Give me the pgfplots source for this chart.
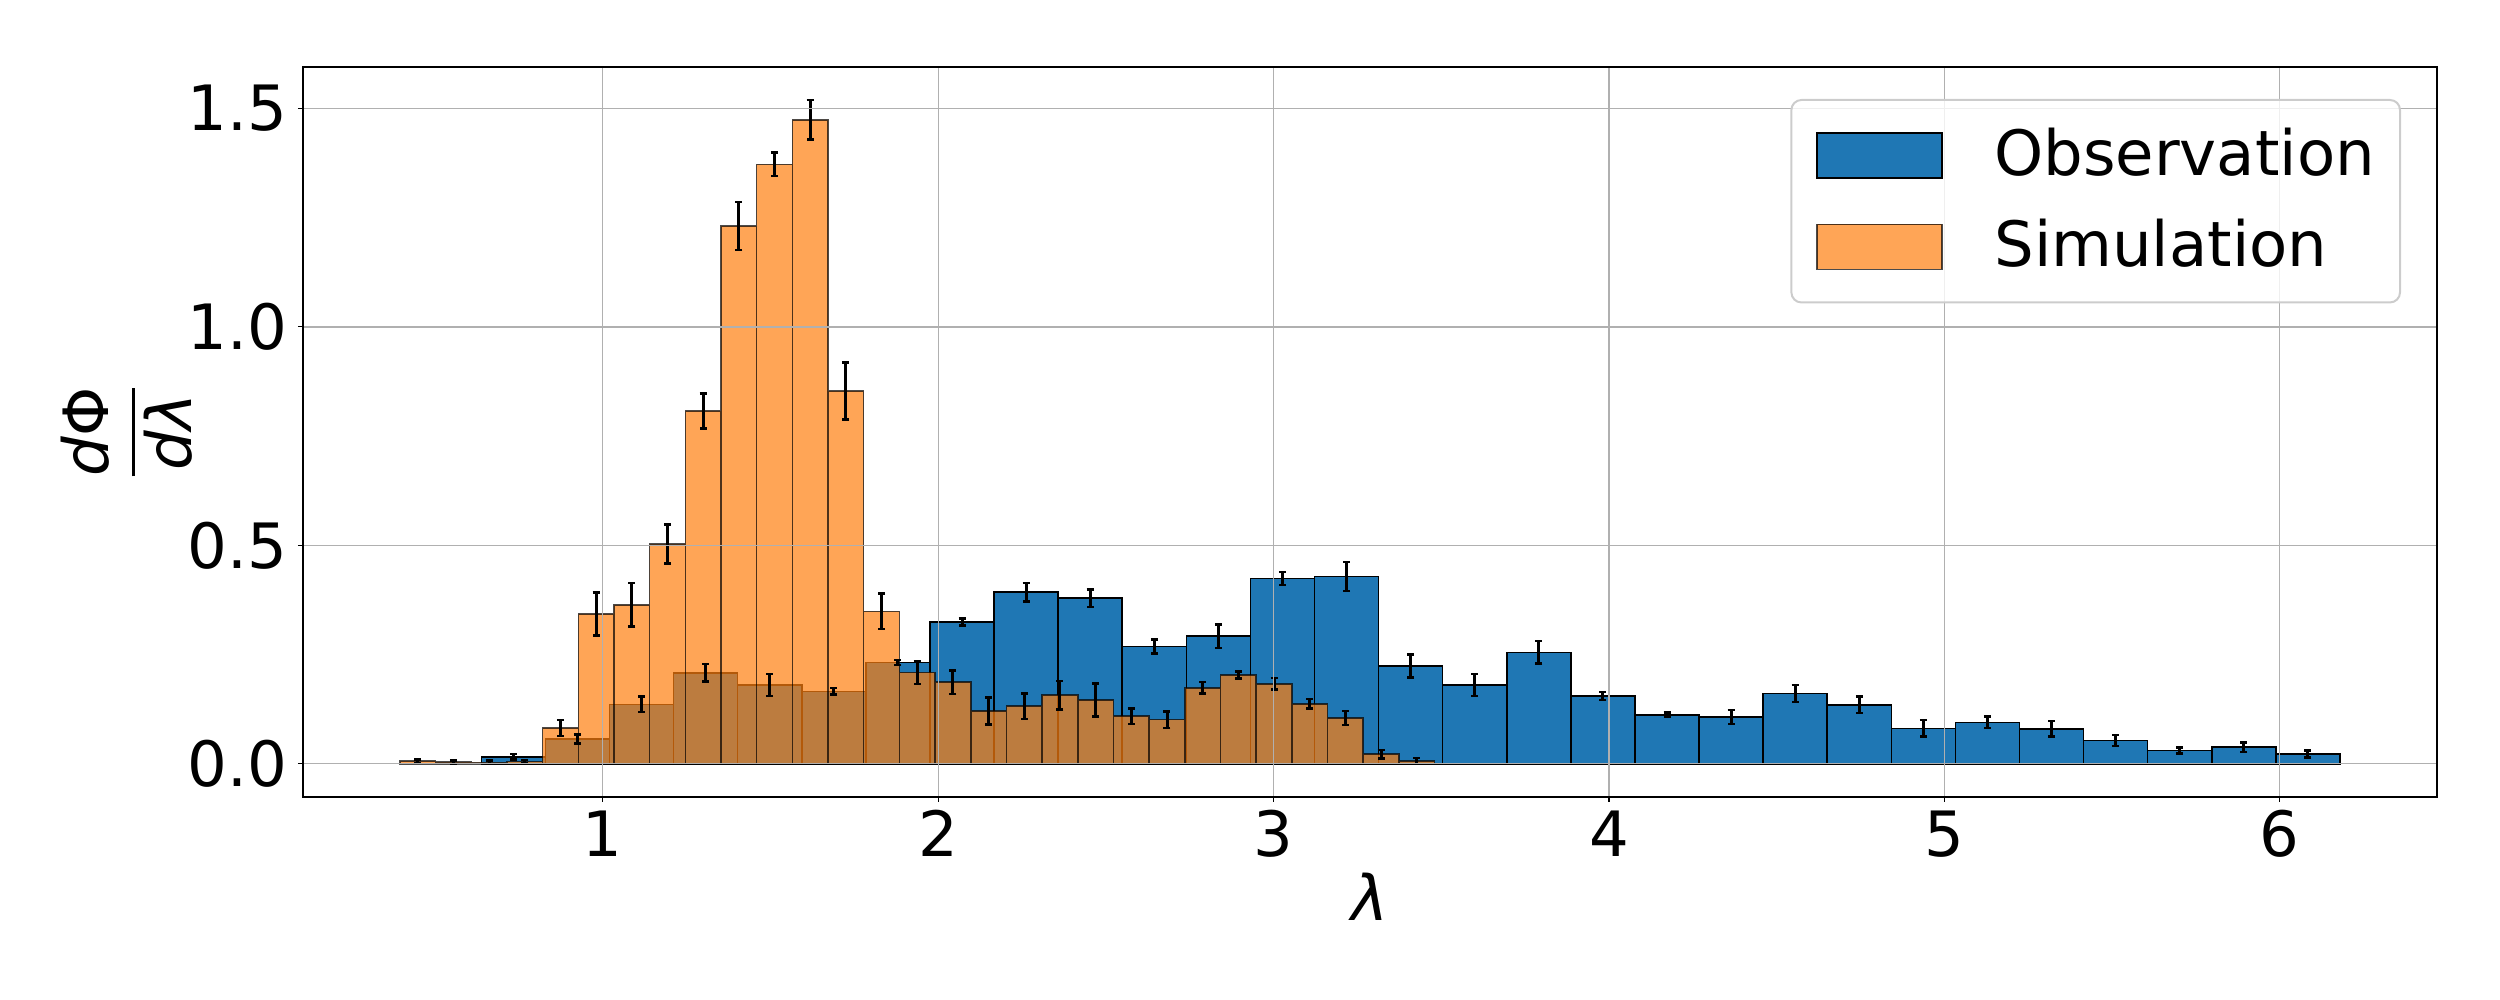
\documentclass[border=0pt]{standalone}
\usepackage{fontspec}
\setmainfont{DejaVu Sans}
\usepackage{pgfplots}
\usepackage{pgfplotstable}
\pgfplotsset{compat=1.18}
\definecolor{mblue}{HTML}{1F77B4}
\definecolor{morange}{HTML}{FF7F0E}
\definecolor{mgrid}{HTML}{B0B0B0}
\pgfplotsset{histlegend/.style={legend image code/.code={\path (0pt,0pt) (35.3pt,0pt);\draw[##1, fill opacity=#1, draw opacity=#1, sharp corners, line width=0.3pt] (0pt,-4.5pt) rectangle (25pt,4.5pt);}}}

% Observation histogram: left bin edges (last row = right edge)
\pgfplotstableread{
x y
0.6377 0.016
0.8288 0.057
1.0199 0.136
1.2110 0.208
1.4021 0.180
1.5932 0.166
1.7843 0.232
1.9754 0.325
2.1665 0.393
2.3576 0.379
2.5487 0.268
2.7398 0.292
2.9309 0.424
3.1220 0.429
3.3131 0.224
3.5042 0.180
3.6953 0.255
3.8864 0.155
4.0775 0.112
4.2686 0.107
4.4597 0.161
4.6508 0.135
4.8419 0.081
5.0330 0.095
5.2241 0.080
5.4152 0.053
5.6063 0.030
5.7974 0.038
5.9885 0.022
6.1796 0.022
}\obsbars

% Observation bin centres and errors
\pgfplotstableread{
x y e
0.7333 0.016 0.006
0.9244 0.057 0.010
1.1155 0.136 0.018
1.3066 0.208 0.020
1.4977 0.180 0.025
1.6888 0.166 0.007
1.8799 0.232 0.006
2.0710 0.325 0.008
2.2621 0.393 0.021
2.4532 0.379 0.020
2.6443 0.268 0.016
2.8354 0.292 0.027
3.0265 0.424 0.015
3.2176 0.429 0.033
3.4087 0.224 0.026
3.5998 0.180 0.025
3.7909 0.255 0.026
3.9820 0.155 0.009
4.1731 0.112 0.005
4.3642 0.107 0.016
4.5553 0.161 0.019
4.7464 0.135 0.019
4.9375 0.081 0.019
5.1286 0.095 0.013
5.3197 0.080 0.018
5.5108 0.053 0.0125
5.7019 0.030 0.007
5.8930 0.038 0.011
6.0841 0.022 0.008
}\obserr

% Simulation histogram: left bin edges (last row = right edge)
\pgfplotstableread{
x y
0.3950 0.006
0.5014 0.004
0.6078 0.003
0.7141 0.005
0.8205 0.082
0.9269 0.343
1.0333 0.364
1.1397 0.503
1.2460 0.808
1.3524 1.231
1.4588 1.372
1.5652 1.474
1.6716 0.853
1.7779 0.349
1.8843 0.209
1.9907 0.187
2.0971 0.121
2.2035 0.132
2.3098 0.157
2.4162 0.146
2.5226 0.109
2.6290 0.101
2.7354 0.174
2.8417 0.203
2.9481 0.183
3.0545 0.137
3.1609 0.105
3.2673 0.022
3.3736 0.006
3.4800 0.006
}\simbars

% Simulation bin centres and errors
\pgfplotstableread{
x y e
0.4482 0.006 0.004
0.5546 0.004 0.004
0.6610 0.003 0.004
0.7673 0.005 0.004
0.8737 0.082 0.018
0.9801 0.343 0.049
1.0865 0.364 0.050
1.1929 0.503 0.045
1.2992 0.808 0.040
1.4056 1.231 0.055
1.5120 1.372 0.027
1.6184 1.474 0.045
1.7248 0.853 0.065
1.8311 0.349 0.041
1.9375 0.209 0.026
2.0439 0.187 0.027
2.1503 0.121 0.031
2.2567 0.132 0.029
2.3630 0.157 0.033
2.4694 0.146 0.038
2.5758 0.109 0.018
2.6822 0.101 0.019
2.7886 0.174 0.013
2.8949 0.203 0.008
3.0013 0.183 0.013
3.1077 0.137 0.011
3.2141 0.105 0.016
3.3205 0.022 0.010
3.4268 0.006 0.007
}\simerr

\begin{document}
\begin{tikzpicture}
\useasboundingbox (-60.6pt,-40.6pt) rectangle (439.4pt,159.4pt);
\begin{axis}[
  at={(0,0)}, anchor=south west,
  scale only axis, width=426.8pt, height=146pt,
  xmin=0.106, xmax=6.469, ymin=-0.076, ymax=1.595,
  xtick={1,2,3,4,5,6}, ytick={0,0.5,1,1.5},
  tick pos=left, tick align=outside, major tick length=1pt,
  every tick/.style={black, line width=0.22pt},
  axis line style={line width=0.25pt},
  xmajorgrids, ymajorgrids, grid style={mgrid, line width=0.25pt},
  axis on top,
  /pgf/number format/assume math mode=true,
  tick label style={font=\fontsize{12.5}{15}\selectfont},
  xticklabel style={inner sep=0pt, yshift=-1.5pt},
  yticklabel style={inner sep=0pt, xshift=-2pt, /pgf/number format/.cd, fixed, fixed zerofill, precision=1},
  xlabel={\textit{λ}},
  xlabel style={at={(axis description cs:0.5,-0.137)}, anchor=center, font=\fontsize{12.5}{15}\selectfont},
  ylabel={\fontsize{12.5}{15}\selectfont$\displaystyle{\mbox{\itshape d}\mbox{Φ} \above 0.6pt \mbox{\itshape dλ}}$},
  ylabel style={at={(axis description cs:-0.0827,0.5)}, anchor=center},
  legend style={at={(1,1)}, anchor=north east, xshift=-7.2pt, yshift=-6.4pt,
    draw=black!20, rounded corners=2pt, fill=white, fill opacity=0.8, text opacity=1,
    inner xsep=5pt, inner ysep=5.6pt, row sep=7.3pt,
    font=\fontsize{12.5}{15}\selectfont, nodes={inner sep=0pt}},
  legend cell align=left,
]
\addplot[ybar interval, fill=mblue, draw=black, line width=0.3pt, histlegend=1]
  table[x=x, y=y] {\obsbars};
\addlegendentry{Observation}
\addplot[ybar interval, fill=morange, fill opacity=0.7, draw=black, draw opacity=0.7, line width=0.3pt, histlegend=0.7]
  table[x=x, y=y] {\simbars};
\addlegendentry{Simulation}
\addplot[draw=none, mark=none, forget plot,
  error bars/.cd, y dir=both, y explicit,
  error bar style={draw=black, solid, line width=0.6pt},
  error mark=-,
  error mark options={draw=black, solid, line width=0.5pt, mark size=0.7pt, rotate=90}]
  table[x=x, y=y, y error=e] {\obserr};
\addplot[draw=none, mark=none, forget plot,
  error bars/.cd, y dir=both, y explicit,
  error bar style={draw=black, solid, line width=0.6pt},
  error mark=-,
  error mark options={draw=black, solid, line width=0.5pt, mark size=0.7pt, rotate=90}]
  table[x=x, y=y, y error=e] {\simerr};
\end{axis}
\end{tikzpicture}
\end{document}
